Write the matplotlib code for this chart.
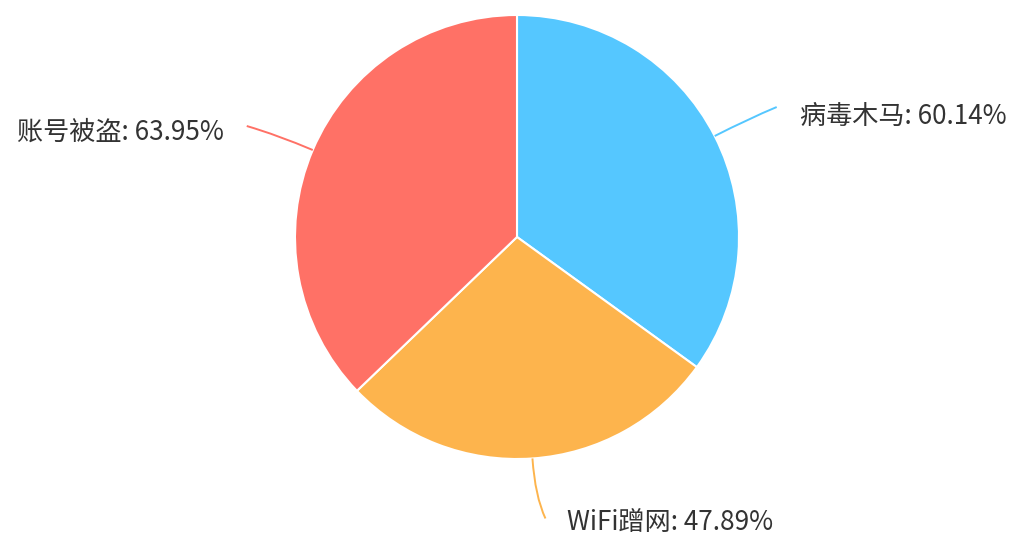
import numpy as np
import matplotlib
matplotlib.use("Agg")
import matplotlib.pyplot as plt
from matplotlib.path import Path
from matplotlib.patches import PathPatch

plt.rcParams['font.family'] = ['Noto Sans CJK SC', 'DejaVu Sans']

# data
labels = ['病毒木马', 'WiFi蹭网', '账号被盗']
values = [60.14, 47.89, 63.95]
colors = ['#55c7ff', '#fdb44d', '#ff7166']

W, H = 1012, 537
fig = plt.figure(figsize=(W / 100, H / 100), dpi=100)
ax = fig.add_axes([0, 0, 1, 1])

cx, cy, r = 517, H - 237, 222
wedges, _ = ax.pie(values, colors=colors, startangle=90, counterclock=False,
                   center=(cx, cy), radius=r,
                   wedgeprops=dict(edgecolor='white', linewidth=1.5))
ax.set_xlim(0, W)
ax.set_ylim(0, H)
ax.set_aspect('equal')
ax.axis('off')

# label end points (pixel offsets relative to the line start) and text placement
line_ends = [(62, 29), (13, -60), (-66, 24)]
text_pos = [(800, H - 116, 'left'), (567, H - 523, 'left'), (224, H - 132, 'right')]

for w, lab, val, col, (ex, ey), (tx, ty, ha) in zip(wedges, labels, values, colors,
                                                    line_ends, text_pos):
    mid = np.deg2rad((w.theta1 + w.theta2) / 2)
    sx, sy = cx + r * np.cos(mid), cy + r * np.sin(mid)
    kx, ky = cx + (r + 38) * np.cos(mid), cy + (r + 38) * np.sin(mid)
    path = Path([(sx, sy), (kx, ky), (sx + ex, sy + ey)],
                [Path.MOVETO, Path.CURVE3, Path.CURVE3])
    ax.add_patch(PathPatch(path, fill=False, edgecolor=col, linewidth=1.4))
    ax.text(tx, ty, f'{lab}: {val:.2f}%', ha=ha, va='center',
            fontsize=18.8, color='#333333')

fig.savefig('out.png', dpi=100)
